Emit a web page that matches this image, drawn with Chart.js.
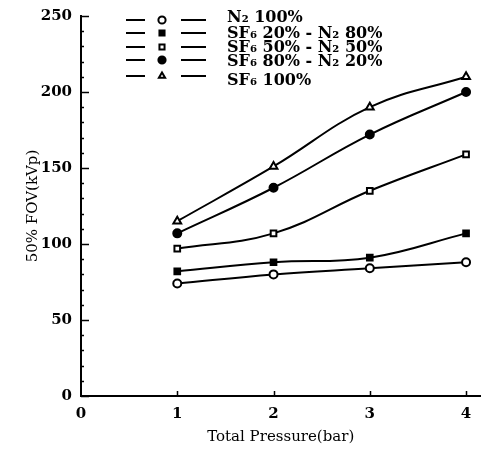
<!doctype html>
<html lang="en">

<head>
    <meta charset="UTF-8" />
    <title>50% FOV vs Total Pressure</title>
    <script src="https://cdn.jsdelivr.net/npm/chart.js"></script>
    <style>
        body { margin: 0; background: #fff; }
        #wrap { width: 487px; height: 450px; }
    </style>
</head>

<body>
    <div id="wrap">
        <canvas id="myChart" width="487" height="450"></canvas>
    </div>

    <script>
        // pressures (bar)
        const pressure = [1, 2, 3, 4];

        // 50% FOV (kVp) for each gas mixture
        const n2_100 = [74, 80, 84, 88];
        const sf6_20 = [82, 88, 91, 107];
        const sf6_50 = [97, 107, 135, 159];
        const sf6_80 = [107, 137, 172, 200];
        const sf6_100 = [115, 151, 190, 210];

        const mixLabels = [
            'N\u2082 100%',
            'SF\u2086 20% - N\u2082 80%',
            'SF\u2086 50% - N\u2082 50%',
            'SF\u2086 80% - N\u2082 20%',
            'SF\u2086 100%'
        ];

        const xTicks = [0, 1, 2, 3, 4];
        const yTicks = [0, 50, 100, 150, 200, 250];

        const serif = "'DejaVu Serif', 'Liberation Serif', serif";

        function mkSet(label, vals, style, filled) {
            return {
                label: label,
                data: vals.map((v, i) => ({ x: pressure[i], y: v })),
                borderColor: '#000',
                borderWidth: 2,
                pointStyle: style,
                pointRadius: style == 'triangle' ? 4.5 : 4,
                pointBorderWidth: 2,
                pointBorderColor: '#000',
                pointBackgroundColor: filled ? '#000' : '#fff',
                tension: 0.4,
                fill: false
            };
        }

        const datasets = [
            mkSet(mixLabels[0], n2_100, 'circle', false),
            mkSet(mixLabels[1], sf6_20, 'rect', true),
            mkSet(mixLabels[2], sf6_50, 'rect', false),
            mkSet(mixLabels[3], sf6_80, 'circle', true),
            mkSet(mixLabels[4], sf6_100, 'triangle', false)
        ];

        /* ticks pointing into the plot, plus minor ticks on y */
        const innerTicks = {
            id: 'innerTicks',
            afterDraw(chart) {
                const c = chart.ctx;
                const xs = chart.scales.x, ys = chart.scales.y;
                const area = chart.chartArea;
                c.save();
                c.strokeStyle = '#000';
                c.lineWidth = 1.5;
                c.beginPath();
                for (let v = 0; v <= 250; v += 10) {
                    const py = Math.round(ys.getPixelForValue(v)) + 0.5;
                    const len = v % 50 == 0 ? 8 : 3;
                    c.moveTo(area.left, py);
                    c.lineTo(area.left + len, py);
                }
                xTicks.forEach(v => {
                    if (v == 0) return;
                    const px = Math.round(xs.getPixelForValue(v)) + 0.5;
                    c.moveTo(px, area.bottom);
                    c.lineTo(px, area.bottom - 5);
                });
                c.stroke();
                c.restore();
            }
        };

        /* legend: line - marker - line, then text */
        const lineLegend = {
            id: 'lineLegend',
            afterDraw(chart) {
                const c = chart.ctx;
                const rowY = [20, 33, 47, 60, 76];
                const textY = [18, 34, 48, 62, 81];
                c.save();
                chart.data.datasets.forEach((ds, i) => {
                    const y = rowY[i];
                    c.strokeStyle = '#000';
                    c.lineWidth = 2;
                    c.beginPath();
                    c.moveTo(126, y); c.lineTo(145, y);
                    c.moveTo(181, y); c.lineTo(206, y);
                    c.stroke();
                    c.fillStyle = ds.pointBackgroundColor;
                    c.strokeStyle = '#000';
                    Chart.helpers.drawPoint(c, {
                        pointStyle: ds.pointStyle,
                        radius: 3.6,
                        rotation: 0,
                        borderWidth: 2
                    }, 162, y);
                    c.fillStyle = '#000';
                    c.font = 'bold 16px ' + serif;
                    c.textBaseline = 'middle';
                    c.textAlign = 'left';
                    c.fillText(ds.label, 227, textY[i]);
                });
                c.restore();
            }
        };

        const ctx = document.getElementById('myChart');

        new Chart(ctx, {
            type: 'line',
            data: { datasets: datasets },
            options: {
                responsive: false,
                animation: false,
                layout: { padding: { left: 0, right: 1, top: 16, bottom: 0 } },
                plugins: {
                    legend: { display: false },
                    tooltip: { enabled: false }
                },
                scales: {
                    x: {
                        type: 'linear',
                        min: 0,
                        max: 4.15,
                        afterBuildTicks: s => { s.ticks = xTicks.map(v => ({ value: v })); },
                        afterFit: s => { s.height = 54; },
                        grid: { display: false },
                        border: { display: true, color: '#000', width: 2 },
                        ticks: {
                            color: '#000',
                            padding: 1,
                            font: { family: serif, size: 15, weight: 'bold' },
                            maxRotation: 0,
                            autoSkip: false
                        },
                        title: {
                            display: true,
                            text: 'Total Pressure(bar)',
                            color: '#000',
                            font: { family: serif, size: 15 },
                            padding: { top: 0, bottom: 4 }
                        }
                    },
                    y: {
                        min: 0,
                        max: 250,
                        afterBuildTicks: s => { s.ticks = yTicks.map(v => ({ value: v })); },
                        afterFit: s => { s.width = 81; },
                        grid: { display: false },
                        border: { display: true, color: '#000', width: 2 },
                        ticks: {
                            color: '#000',
                            padding: 1,
                            font: { family: serif, size: 15, weight: 'bold' }
                        },
                        title: {
                            display: true,
                            text: '50% FOV(kVp)',
                            color: '#000',
                            font: { family: serif, size: 15 },
                            padding: { top: 24, bottom: 0 }
                        }
                    }
                }
            },
            plugins: [innerTicks, lineLegend]
        });
    </script>
</body>

</html>
